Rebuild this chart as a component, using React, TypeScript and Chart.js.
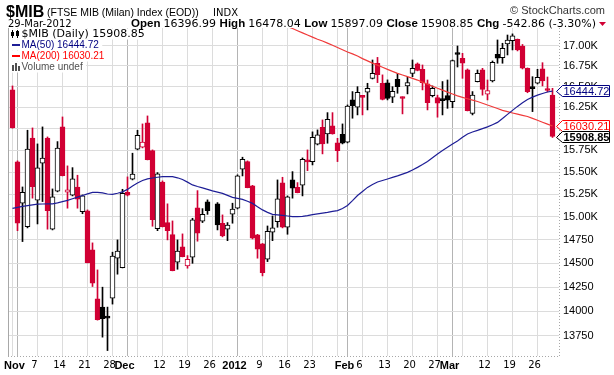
import { useEffect, useRef } from 'react';
import { Chart, registerables } from 'chart.js';

Chart.register(...registerables);

// ---------- header texts ----------
const symbol = '$MIB';
const indexName = '(FTSE MIB (Milan) Index (EOD))';
const exchange = 'INDX';
const dateLabel = '29-Mar-2012';
const credit = '\u00A9 StockCharts.com';

// ---------- daily OHLC (trading-day slots, Oct 31 2011 .. Mar 29 2012; slot 40 = Dec 26, no candle) ----------
const open: (number | null)[] = [
  16459, 15615, 15151, 14894, 15891, 15185, 15600, 15891, 14866, 15285,
  16020, 15273, 15239, 15332, 15058, 15066, 14643, 14128, 14043, 13935,
  14135, 14554, 14454, 15273, 15419, 15761, 15784, 16067, 15745, 14872,
  15388, 14937, 14807, 14511, 14675, 14472, 14565, 15099, 14953, 15166,
  null, 15144, 14931, 14866, 15030, 15096, 15532, 15619, 15344, 14804,
  14707, 14543, 14833, 14948, 15377, 14887, 15411, 15329, 15352, 15638,
  15619, 15818, 16016, 15938, 16032, 15834, 15934, 15842, 16339, 16252,
  16385, 16431, 16599, 16783, 16539, 16543, 16371, 16587, 16363, 16507,
  16660, 16775, 16709, 16531, 16390, 16368, 16345, 16390, 16319, 16903,
  16844, 16701, 16180, 16559, 16701, 16409, 16567, 16894, 16851, 17021,
  17062, 17080, 16996, 16722, 16486, 16539, 16716, 16458, 16396.99,
];
const high: (number | null)[] = [
  16507, 15627, 15332, 15981, 16008, 15822, 16020, 15903, 15310, 15849,
  16137, 15570, 15550, 15464, 15243, 15077, 14718, 14430, 14249, 14043,
  14618, 14750, 15306, 15445, 15715, 15981, 16055, 16149, 15753, 15494,
  15400, 15144, 14956, 14750, 14815, 14582, 14985, 15291, 15091, 15188,
  null, 15158, 15022, 14938, 15151, 15468, 15669, 15627, 15350, 14810,
  14712, 14901, 15011, 15411, 15441, 15232, 15505, 15381, 15661, 15753,
  15962, 15985, 16102, 16188, 16188, 15887, 16055, 16279, 16439, 16498,
  16390, 16539, 16823, 16855, 16641, 16580, 16498, 16660, 16376, 16611,
  16823, 16787, 16762, 16579, 16507, 16396, 16560, 16579, 16823, 16996,
  16905, 16713, 16439, 16701, 16721, 16579, 16811, 17071, 17030, 17133,
  17147, 17083, 17015, 16726, 16619, 16709, 16790, 16615, 16478.04,
];
const low: (number | null)[] = [
  16005, 14850, 14732, 14880, 15207, 14923, 15169, 14866, 14858, 15277,
  15456, 15096, 15232, 15096, 15035, 14504, 14256, 13910, 13738, 13604,
  14074, 14385, 14451, 15232, 15411, 15753, 15776, 15638, 14898, 14850,
  14890, 14750, 14420, 14437, 14568, 14448, 14500, 14736, 14938, 15028,
  null, 14858, 14783, 14742, 14931, 15088, 15456, 15322, 14760, 14554,
  14367, 14518, 14742, 14887, 14880, 14811, 15207, 15266, 15232, 15516,
  15581, 15810, 15707, 15830, 15935, 15619, 15822, 15834, 16122, 16161,
  16161, 16220, 16591, 16547, 16339, 16339, 16307, 16419, 16173, 16411,
  16619, 16690, 16459, 16220, 16375, 16134, 16161, 16239, 16247, 16737,
  16599, 16208, 16161, 16555, 16396, 16339, 16555, 16783, 16783, 16885,
  16947, 16935, 16713, 16425, 16200, 16531, 16507, 16435, 15897.09,
];
const close: number[] = [
  16012, 14931, 15273, 15761, 15336, 15547, 15658, 15069, 15221, 15773,
  15460, 15299, 15422, 15196, 15232, 14507, 14291, 13915, 13925, 13930,
  14576, 14629, 15262, 15240, 15476, 15923, 15842, 15641, 14970, 15479,
  14894, 14850, 14423, 14629, 14571, 14543, 14967, 14822, 15028, 15069,
  14880, 14913, 14793, 14910, 15085, 15456, 15646, 15325, 14768, 14650,
  14402, 14844, 14880, 15199, 14887, 15221, 15318, 15269, 15646, 15615,
  15899, 15927, 15822, 16110, 15938, 15745, 15830, 16267, 16271, 16431,
  16370, 16479, 16660, 16643, 16345, 16357, 16443, 16498, 16356, 16547,
  16721, 16694, 16547, 16307, 16479, 16300, 16330, 16335, 16815, 16891,
  16783, 16212, 16396, 16660, 16465, 16451, 16795, 16844, 16968, 17071,
  17122, 16947, 16722, 16439, 16474, 16611, 16567, 16451.71, 15908.85,
];

// ---------- moving averages ----------
const ma50: number[] = [
  15094, 15105, 15116, 15125, 15133, 15140, 15142, 15143, 15144, 15155,
  15168, 15182, 15200, 15218, 15237, 15255, 15271, 15272, 15266, 15253,
  15249, 15262, 15277, 15305, 15344, 15376, 15405, 15422, 15433, 15441,
  15448, 15449, 15448, 15435, 15416, 15386, 15355, 15337, 15322, 15305,
  15288, 15274, 15260, 15238, 15216, 15205, 15194, 15172, 15149, 15112,
  15077, 15050, 15028, 15022, 15017, 15010, 15004, 15004, 15006, 15015,
  15026, 15034, 15042, 15050, 15060, 15069, 15092, 15126, 15180, 15237,
  15282, 15327, 15360, 15388, 15405, 15422, 15440, 15456, 15476, 15496,
  15524, 15553, 15586, 15621, 15664, 15707, 15745, 15783, 15820, 15857,
  15898, 15938, 15960, 15979, 16000, 16020, 16046, 16073, 16118, 16167,
  16215, 16262, 16305, 16345, 16372, 16396, 16416, 16434, 16444.72,
];
const ma200: (number | null)[] = [
  null, null, null, null, null, null, null, null, null, null,
  null, null, null, null, null, null, null, null, null, null,
  null, null, null, null, null, null, null, null, null, null,
  null, null, null, null, null, null, null, null, null, null,
  null, null, null, null, null, null, null, null, null, null,
  null, null, 17310, 17288, 17265, 17240, 17214, 17187, 17160, 17133,
  17106, 17080, 17058, 17032, 17005, 16978, 16950, 16922, 16898, 16872,
  16840, 16812, 16785, 16760, 16734, 16708, 16683, 16660, 16640, 16619,
  16598, 16578, 16553, 16528, 16503, 16479, 16457, 16433, 16410, 16388,
  16370, 16353, 16336, 16320, 16300, 16278, 16258, 16237, 16215, 16199,
  16184, 16170, 16156, 16142, 16120, 16098, 16075, 16052, 16030.21,
];

// ---------- axes ----------
const xTickDays = [0, 1, 5, 10, 15, 20, 23, 25, 30, 35, 40, 45, 50, 55, 60, 65, 67, 70, 75, 80, 85, 88, 90, 95, 100, 105];
const xTickLabels = ['', 'Nov', '7', '14', '21', '28', 'Dec', '', '12', '19', '26', '2012', '9', '16', '23', '', 'Feb', '6', '13', '20', '27', 'Mar', '', '12', '19', '26'];
const monthDays = [1, 23, 45, 67, 88];
const yTicks = [13750, 14000, 14250, 14500, 14750, 15000, 15250, 15500, 15750, 16000, 16250, 16500, 16750, 17000];

const RED = '#d10034';
const BLACK = '#000000';
const MA50_COLOR = '#1e1e96';
const MA200_COLOR = '#f03a3a';

const fmt2 = (v: number) => v.toFixed(2);

const decorPlugin = {
  id: 'decor',
  beforeDraw(chart: any) {
    const { ctx, width, height } = chart;
    ctx.save();
    ctx.fillStyle = '#ffffff';
    ctx.fillRect(0, 0, width, height);
    ctx.restore();
  },
  afterDatasetsDraw(chart: any) {
    const { ctx, chartArea: a } = chart;
    const last = close.length - 1;
    ctx.save();
    // plot frame
    ctx.strokeStyle = '#a8a8a8';
    ctx.lineWidth = 1;
    ctx.beginPath();
    ctx.moveTo(a.left + 0.5, a.top);
    ctx.lineTo(a.left + 0.5, a.bottom);
    ctx.stroke();
    ctx.setLineDash([1, 2]);
    ctx.beginPath();
    ctx.moveTo(a.left, a.bottom + 0.5);
    ctx.lineTo(a.right, a.bottom + 0.5);
    ctx.moveTo(a.right + 0.5, a.top);
    ctx.lineTo(a.right + 0.5, a.bottom);
    ctx.stroke();
    ctx.setLineDash([]);

    // legend
    const rows = [
      { kind: 'candle', text: `${symbol} (Daily) ${fmt2(close[last])}`, color: '#000000', font: '11px "DejaVu Sans"' },
      { kind: 'line', text: `MA(50) ${fmt2(ma50[last])}`, color: '#000080', icon: MA50_COLOR, font: '10px "Liberation Sans"' },
      { kind: 'line', text: `MA(200) ${fmt2(ma200[last] as number)}`, color: '#ff0000', icon: '#ff0000', font: '10px "Liberation Sans"' },
      { kind: 'vol', text: 'Volume undef', color: '#505050', font: '10px "Liberation Sans"' },
    ];
    ctx.textBaseline = 'middle';
    ctx.textAlign = 'left';
    rows.forEach((r, k) => {
      const y = 34 + k * 11;
      ctx.font = r.font;
      const w = ctx.measureText(r.text).width;
      ctx.fillStyle = '#ffffff';
      ctx.fillRect(a.left + 1, y - 5.5, 14 + w + 2, 11);
      if (r.kind === 'candle') {
        ctx.fillStyle = '#000';
        ctx.fillRect(12, y - 4, 1, 8);
        ctx.fillRect(11, y - 2, 3, 4);
        ctx.fillRect(17, y - 4, 1, 8);
        ctx.strokeStyle = '#000';
        ctx.strokeRect(16.5, y - 2.5, 2, 4);
      } else if (r.kind === 'line') {
        ctx.fillStyle = r.icon as string;
        ctx.fillRect(12, Math.round(y) - 1, 8, 2);
      } else {
        ctx.fillStyle = '#505050';
        ctx.fillRect(12, y - 2, 2, 6);
        ctx.fillRect(15, y - 4, 2, 8);
        ctx.fillRect(18, y - 1, 2, 5);
      }
      ctx.fillStyle = r.color;
      ctx.fillText(r.text, 21.5, y + 0.5);
    });
    ctx.restore();
  },
  afterDraw(chart: any) {
    const { ctx, chartArea: a } = chart;
    const last = close.length - 1;
    ctx.save();
    // header line 1
    ctx.textBaseline = 'alphabetic';
    ctx.textAlign = 'left';
    ctx.fillStyle = '#000';
    ctx.font = 'bold 16px "Liberation Sans"';
    ctx.fillText(symbol, 6, 17);
    ctx.font = '10.5px "Liberation Sans"';
    ctx.fillText(indexName, 47, 16);
    ctx.font = '10px "DejaVu Sans"';
    ctx.fillText(exchange, 213, 16);
    ctx.textAlign = 'right';
    ctx.fillStyle = '#333';
    ctx.font = '11px "Liberation Sans"';
    ctx.fillText(credit, 605, 14);

    // header line 2
    ctx.textAlign = 'left';
    ctx.fillStyle = '#000';
    ctx.font = '10px "DejaVu Sans"';
    ctx.fillText(dateLabel, 8, 27);
    const chg = close[last] - close[last - 1];
    const pct = (chg / close[last - 1]) * 100;
    const segs: [string, boolean][] = [
      ['Open ', true], [`${fmt2(open[last] as number)} `, false],
      ['High ', true], [`${fmt2(high[last] as number)} `, false],
      ['Low ', true], [`${fmt2(low[last] as number)} `, false],
      ['Close ', true], [`${fmt2(close[last])} `, false],
      ['Chg ', true], [`${fmt2(chg)} (${pct.toFixed(2)}%)`, false],
    ];
    const fontB = 'bold 11.5px "Liberation Sans"';
    const fontN = '11px "DejaVu Sans"';
    let total = 0;
    segs.forEach(([t, b]) => { ctx.font = b ? fontB : fontN; total += ctx.measureText(t).width; });
    let x = 596 - total;
    segs.forEach(([t, b]) => {
      ctx.font = b ? fontB : fontN;
      ctx.fillText(t, x, 27);
      x += ctx.measureText(t).width;
    });
    ctx.fillStyle = RED;
    ctx.beginPath();
    ctx.moveTo(599, 22);
    ctx.lineTo(606, 22);
    ctx.lineTo(602.5, 26);
    ctx.closePath();
    ctx.fill();

    // right-axis value tags
    const yS = chart.scales.y;
    const tags = [
      { v: ma50[last], color: '#000080', bold: false },
      { v: ma200[last] as number, color: '#ff0000', bold: false },
      { v: close[last], color: '#000000', bold: true },
    ].map((t) => ({ ...t, y: yS.getPixelForValue(t.v) })).sort((p, q) => p.y - q.y);
    for (let k = 1; k < tags.length; k++) {
      if (tags[k].y < tags[k - 1].y + 11) tags[k].y = tags[k - 1].y + 11;
    }
    tags.forEach((t) => {
      const y = Math.round(t.y) + 0.5;
      const x0 = a.right - 2.5;
      const x1 = a.right + 3.5;
      const x2 = 609.5;
      ctx.beginPath();
      ctx.moveTo(x0, y);
      ctx.lineTo(x1, y - 6);
      ctx.lineTo(x2, y - 6);
      ctx.lineTo(x2, y + 5);
      ctx.lineTo(x1, y + 5);
      ctx.closePath();
      ctx.fillStyle = '#ffffff';
      ctx.fill();
      ctx.strokeStyle = t.color;
      ctx.lineWidth = 1;
      ctx.stroke();
      ctx.fillStyle = t.color;
      ctx.font = (t.bold ? 'bold ' : '') + '11px "Liberation Sans"';
      ctx.textAlign = 'left';
      ctx.textBaseline = 'middle';
      ctx.fillText(fmt2(t.v), x1 + 1, y);
    });
    ctx.restore();
  },
};

export default function App() {
  const ref = useRef<HTMLCanvasElement>(null);
  useEffect(() => {
    const n = close.length;
    const bodyData: any[] = [];
    const bodyBg: string[] = [];
    const bodyBorder: string[] = [];
    const wickData: any[] = [];
    const wickColor: string[] = [];
    for (let i = 0; i < n; i++) {
      const o = open[i];
      const h = high[i];
      const l = low[i];
      if (o == null || h == null || l == null) continue;
      const prev = i > 0 ? close[i - 1] : o;
      const col = close[i] < prev ? RED : BLACK;
      bodyData.push({ x: i, y: [o, close[i]] });
      bodyBg.push(close[i] < o ? col : '#ffffff');
      bodyBorder.push(col);
      wickData.push({ x: i, y: [l, h] });
      wickColor.push(col);
    }
    const ma50Data = ma50.map((v, i) => ({ x: i, y: v }));
    const ma200Data = ma200.map((v, i) => ({ x: i, y: v })).filter((p) => p.y != null);

    const chart = new Chart(ref.current as HTMLCanvasElement, {
      type: 'bar',
      data: {
        datasets: [
          {
            type: 'line', data: ma50Data as any, borderColor: MA50_COLOR, borderWidth: 1.2,
            pointRadius: 0, tension: 0, fill: false, order: 0, clip: 0 as any,
          },
          {
            type: 'line', data: ma200Data as any, borderColor: MA200_COLOR, borderWidth: 1.2,
            pointRadius: 0, tension: 0, fill: false, order: 1, clip: 0 as any,
          },
          {
            type: 'bar', data: bodyData, backgroundColor: bodyBg, borderColor: bodyBorder,
            borderWidth: 1, borderSkipped: false, barThickness: 5, minBarLength: 2, grouped: false, order: 2,
          } as any,
          {
            type: 'bar', data: wickData, backgroundColor: wickColor, borderWidth: 0,
            barThickness: 1, grouped: false, order: 3,
          } as any,
        ],
      },
      options: {
        animation: false,
        responsive: false,
        devicePixelRatio: 1,
        layout: { padding: { left: 8, top: 28, right: 0, bottom: 0 } },
        plugins: { legend: { display: false }, tooltip: { enabled: false }, title: { display: false } },
        scales: {
          x: {
            type: 'linear',
            min: -0.9,
            max: 109.3,
            offset: false,
            afterBuildTicks: (s: any) => { s.ticks = xTickDays.map((v) => ({ value: v })); },
            afterFit: (s: any) => { s.height = 19; },
            grid: {
              offset: false,
              drawTicks: false,
              color: (c: any) => (monthDays.includes(c.tick?.value) ? '#b4b4b4' : '#dcdcdc'),
            },
            border: { display: false },
            ticks: {
              autoSkip: false,
              maxRotation: 0,
              padding: 3,
              labelOffset: -3,
              color: '#000',
              callback: (v: any) => {
                const k = xTickDays.indexOf(Number(v));
                return k >= 0 ? xTickLabels[k] : '';
              },
              font: (c: any) => (monthDays.includes(c.tick?.value)
                ? { family: 'Liberation Sans', size: 11, weight: 'bold' }
                : { family: 'DejaVu Sans', size: 10 }),
            },
          } as any,
          y: {
            type: 'logarithmic',
            position: 'right',
            min: 13550,
            max: 17221,
            afterBuildTicks: (s: any) => { s.ticks = yTicks.map((v) => ({ value: v })); },
            afterFit: (s: any) => { s.width = 55; },
            grid: { color: '#dcdcdc', drawTicks: false },
            border: { display: false },
            ticks: {
              autoSkip: false,
              padding: 4,
              color: '#000',
              font: { family: 'Liberation Sans', size: 11 },
              callback: (v: any) => {
                const num = Number(v);
                return num >= 15000 ? (num / 1000).toFixed(2) + 'K' : String(num);
              },
            },
          } as any,
        },
      },
      plugins: [decorPlugin],
    });
    return () => chart.destroy();
  }, []);
  return (
    <div style={{ position: 'absolute', left: 0, top: 0, width: 614, height: 375 }}>
      <canvas ref={ref} width={614} height={375} style={{ display: 'block' }} />
    </div>
  );
}
